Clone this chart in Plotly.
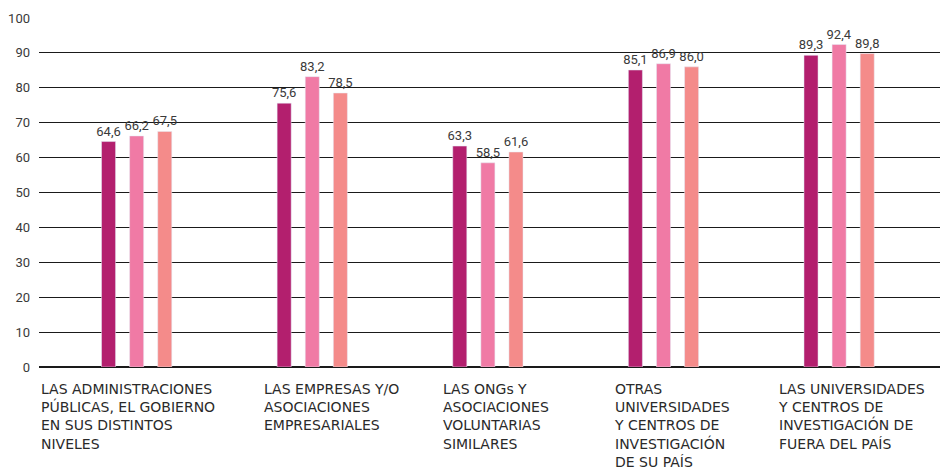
import plotly.graph_objects as go

# categories (display labels, multi-line)
categories = [
    "LAS ADMINISTRACIONES<br>PÚBLICAS, EL GOBIERNO<br>EN SUS DISTINTOS<br>NIVELES",
    "LAS EMPRESAS Y/O<br>ASOCIACIONES<br>EMPRESARIALES",
    "LAS ONGs Y<br>ASOCIACIONES<br>VOLUNTARIAS<br>SIMILARES",
    "OTRAS<br>UNIVERSIDADES<br>Y CENTROS DE<br>INVESTIGACIÓN<br>DE SU PAÍS",
    "LAS UNIVERSIDADES<br>Y CENTROS DE<br>INVESTIGACIÓN DE<br>FUERA DEL PAÍS",
]
serie_1 = [64.6, 75.6, 63.3, 85.1, 89.3]
serie_2 = [66.2, 83.2, 58.5, 86.9, 92.4]
serie_3 = [67.5, 78.5, 61.6, 86.0, 89.8]
y_ticks = [0, 10, 20, 30, 40, 50, 60, 70, 80, 90, 100]

colors = ['#b31f6e', '#f07aa5', '#f48b8a']
font_family = "Roboto, 'Open Sans', sans-serif"
label_family = "'DejaVu Sans', Roboto, sans-serif"

x_pos = list(range(len(categories)))
# left offset (px) of each category label relative to the group centre
label_shift = [-98, -50, -47, -52, -63]

fig = go.Figure()
for vals, col in zip([serie_1, serie_2, serie_3], colors):
    fig.add_trace(go.Bar(
        x=x_pos,
        y=vals,
        marker_color=col,
        text=vals,
        texttemplate='%{y:.1f}',
        textposition='outside',
        constraintext='none',
        textfont=dict(size=13, color='#3a3a3a', family=font_family),
        cliponaxis=False,
        hoverinfo='skip',
    ))

for i, lab in enumerate(categories):
    fig.add_annotation(
        x=x_pos[i], y=0, xref='x', yref='y',
        text=lab, showarrow=False,
        xanchor='left', yanchor='top', align='left',
        xshift=label_shift[i], yshift=-12,
        font=dict(size=14, color='#2a2a2a', family=label_family),
    )

# the page body adds an 8px margin, so the figure is a little smaller
fig.update_layout(
    width=940, height=461,
    margin=dict(l=28, r=0, t=10, b=102),
    paper_bgcolor='white',
    plot_bgcolor='white',
    barmode='group',
    bargap=0.52,
    bargroupgap=0.5,
    showlegend=False,
    separators=',.',
    xaxis=dict(
        range=[-0.556, 4.62],
        showticklabels=False,
        showgrid=False,
        zeroline=False,
        showline=False,
    ),
    yaxis=dict(
        range=[0, 100],
        tickvals=y_ticks,
        showgrid=True,
        gridcolor='#1a1a1a',
        gridwidth=1,
        zeroline=True,
        zerolinecolor='#1a1a1a',
        zerolinewidth=1.5,
        ticks='',
        ticklabelstandoff=8,
        tickfont=dict(size=13, color='#3a3a3a', family=font_family),
    ),
)

fig.write_html("out.html")
